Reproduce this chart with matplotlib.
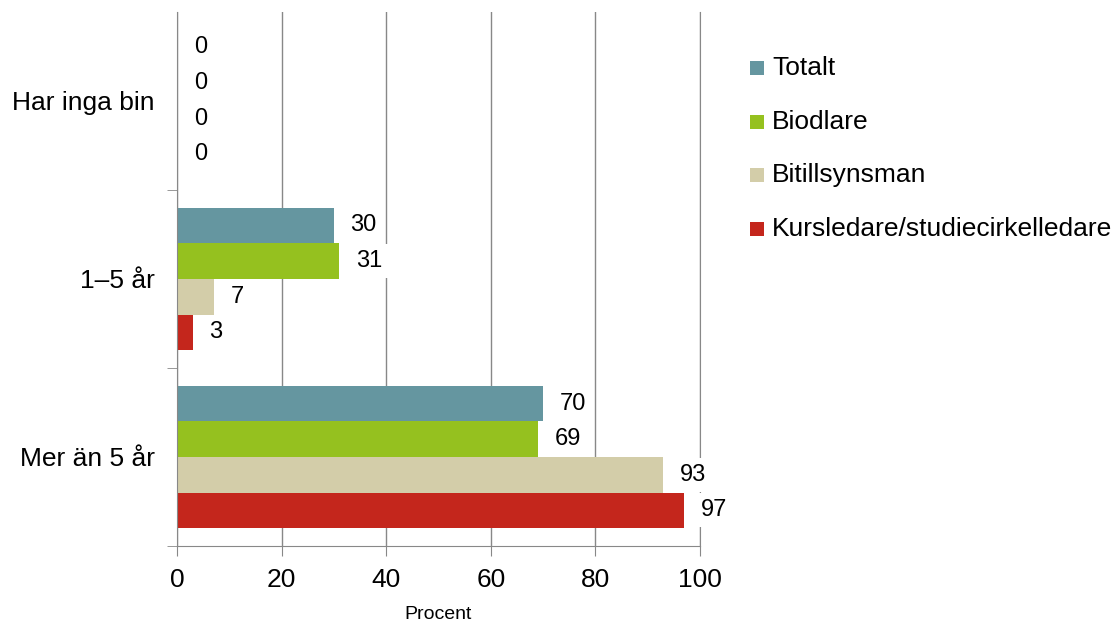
import matplotlib.pyplot as plt
import numpy as np
from matplotlib.patches import Rectangle

plt.rcParams['font.family'] = ['Liberation Sans', 'DejaVu Sans']

# Data
categories = ['Mer än 5 år', '1–5 år', 'Har inga bin']
series = ['Totalt', 'Biodlare', 'Bitillsynsman', 'Kursledare/studiecirkelledare']
totalt = [70, 30, 0]
biodlare = [69, 31, 0]
bitillsynsman = [93, 7, 0]
kursledare = [97, 3, 0]
colors = ['#6596a0', '#95c11f', '#d3cda9', '#c4261c']

values = [totalt, biodlare, bitillsynsman, kursledare]

fig = plt.figure(figsize=(11.16, 6.21), dpi=100)
ax = fig.add_axes([0.1586, 0.1208, 0.6272 - 0.1586, 0.981 - 0.1208])

y = np.arange(len(categories))
h = 0.2
offsets = [0.3, 0.1, -0.1, -0.3]

for vals, off, col in zip(values, offsets, colors):
    ax.barh(y + off, vals, height=h, color=col, zorder=2)
    for yi, v in zip(y, vals):
        ax.annotate(str(v), xy=(v, yi + off), xytext=(12, 0), textcoords='offset points',
                    ha='left', va='center', fontsize=17, color='black', zorder=4,
                    bbox=dict(boxstyle='square,pad=0.25', fc='white', ec='none'))

ax.set_xlim(0, 100)
ax.set_ylim(-0.5, 2.5)
ax.set_xticks([0, 20, 40, 60, 80, 100])
ax.tick_params(axis='x', labelsize=19, length=7, color='#888888', direction='out', pad=9)
ax.set_yticks(y)
ax.set_yticklabels(categories, fontsize=19)
ax.tick_params(axis='y', length=0, pad=16)
ax.set_yticks([-0.5, 0.5, 1.5], minor=True)
ax.tick_params(axis='y', which='minor', length=7, color='#888888', direction='out')

ax.grid(axis='x', color='#888888', linewidth=1, zorder=0)
ax.set_axisbelow(True)
ax.spines['top'].set_visible(False)
for s in ['left', 'bottom', 'right']:
    ax.spines[s].set_color('#888888')
ax.spines['right'].set_zorder(0)

ax.set_xlabel('Procent', fontsize=14, labelpad=10)

# Legend
leg_y = [68, 122, 175, 229]
for name, col, py in zip(series, colors, leg_y):
    fy = 1 - py / 621
    fig.add_artist(Rectangle((750 / 1116, fy - 7 / 621), 14 / 1116, 14 / 621,
                             transform=fig.transFigure, fc=col, ec='none'))
    fig.text(772 / 1116, fy, name, fontsize=19, va='center', ha='left')

fig.savefig('out.png', dpi=100)
